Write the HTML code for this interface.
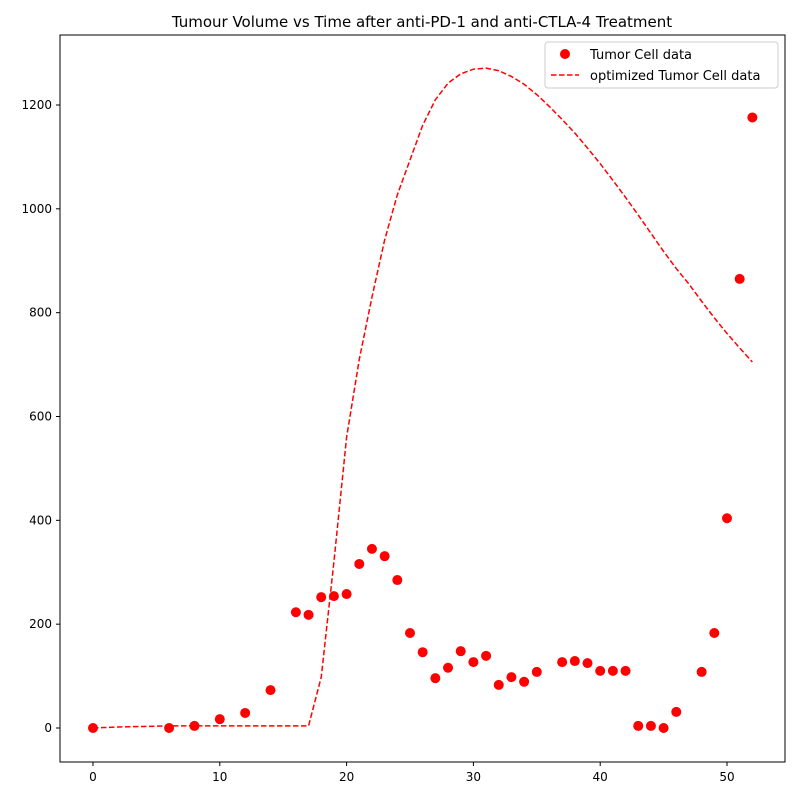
<!DOCTYPE html>
<html><head><meta charset="utf-8"><style>
body{margin:0;background:#fff;font-family:"Liberation Sans","DejaVu Sans",sans-serif;}
svg text{font-family:"DejaVu Sans","Liberation Sans",sans-serif;}
</style></head><body>
<svg id="chart" width="800" height="800">
<rect width="800" height="800" fill="#fff"/>
<text x="422" y="27" text-anchor="middle" font-size="15">Tumour Volume vs Time after anti-PD-1 and anti-CTLA-4 Treatment</text>
<g id="axes"></g>
<g id="marks"></g>
<rect x="60" y="35" width="725" height="727" fill="none" stroke="#000" stroke-width="1"/>
<g>
<rect x="545" y="42" width="233" height="46" rx="3" fill="#fff" stroke="#ccc"/>
<circle cx="565" cy="54" r="5" fill="red"/>
<text x="590" y="59" font-size="13">Tumor Cell data</text>
<line x1="551" y1="75" x2="579" y2="75" stroke="red" stroke-width="1.5" stroke-dasharray="5.5,2.5"/>
<text x="590" y="80" font-size="13">optimized Tumor Cell data</text>
</g>
</svg>
<script>
const dataX=[0,6,8,10,12,14,16,17,18,19,20,21,22,23,24,25,26,27,28,29,30,31,32,33,34,35,37,38,39,40,41,42,43,44,45,46,48,49,50,51,52];
const dataY=[0,0,4,17,29,73,223,218,252,254,258,316,345,331,285,183,146,96,116,148,127,139,83,98,89,108,127,129,125,110,110,110,4,4,0,31,108,183,404,865,1176];
const modelX=[0,1,2,3,4,5,6,7,8,9,10,11,12,13,14,15,16,17,18,19,20,21,22,23,24,25,26,27,28,29,30,31,32,33,34,35,36,37,38,39,40,41,42,43,44,45,46,47,48,49,50,51,52];
const modelY=[0,1,2,2.5,3,3.5,4,4,4,4,4,4,4,4,4,4,4,4,98,320,560,710,830,940,1027,1094,1161,1210,1242,1260,1269,1271,1266,1255,1240,1220,1197,1172,1146,1117,1087,1055,1022,988,953,918,885,855,822,790,760,732,705];
const xTicks=[0,10,20,30,40,50];
const yTicks=[0,200,400,600,800,1000,1200];
const sx=v=>93+v*(727-93)/50;
const sy=v=>728-v*(728-105)/1200;
const NS="http://www.w3.org/2000/svg";
const axes=document.getElementById('axes'),marks=document.getElementById('marks');
function mk(tag,attrs,parent){const e=document.createElementNS(NS,tag);for(const k in attrs)e.setAttribute(k,attrs[k]);parent.appendChild(e);return e;}
xTicks.forEach(t=>{
 const l=mk('line',{x1:sx(t),x2:sx(t),y1:762,y2:766,stroke:'#000'},axes);
 
 
 const tx=mk('text',{x:sx(t),y:781,'text-anchor':'middle','font-size':12},axes);tx.textContent=t;
 
 
});
yTicks.forEach(t=>{
 const l=mk('line',{x1:56,x2:60,y1:sy(t),y2:sy(t),stroke:'#000'},axes);
 
 
 const tx=mk('text',{x:52,y:sy(t)+4,'text-anchor':'end','font-size':12},axes);tx.textContent=t;
 
 
});
const pts=modelX.map((x,i)=>sx(x)+','+sy(modelY[i])).join(' ');
const pl=mk('polyline',{points:pts,fill:'none',stroke:'red','stroke-width':1.5,'stroke-dasharray':'5.5,2.5'},marks);


dataX.forEach((x,i)=>{
 const c=mk('circle',{cx:sx(x),cy:sy(dataY[i]),r:5,fill:'red'},marks);
 
 
});
</script>
</body></html>
